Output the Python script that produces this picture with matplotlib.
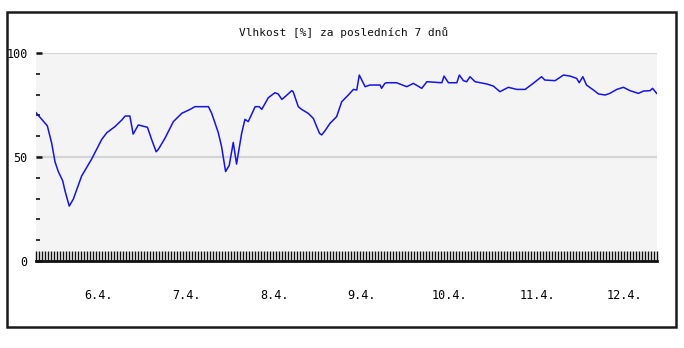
import numpy as np
import matplotlib
matplotlib.use("Agg")
import matplotlib.pyplot as plt
from matplotlib.ticker import MultipleLocator, FixedLocator
from matplotlib.patches import Rectangle

# hours since start of the window
hours = [0.0, 3.1, 4.3, 5.2, 6.1, 7.3, 7.9, 9.1, 10.2, 12.5, 15.2, 18.0, 19.4, 21.6,
         23.5, 24.4, 25.7, 26.6, 28.0, 29.8, 30.5, 31.7, 32.9, 33.5, 35.3, 37.6,
         39.9, 42.2, 43.5, 47.2, 48.1, 49.9, 50.8, 51.9, 52.9, 54.0, 54.9, 56.3,
         57.2, 58.1, 60.0, 61.1, 61.8, 63.6, 65.4, 66.3, 67.3, 68.2, 70.0, 70.4,
         71.8, 72.7, 74.5, 75.9, 77.6, 78.2, 79.1, 80.5, 82.3, 83.7, 85.5, 86.9,
         87.8, 88.5, 90.1, 91.4, 94.2, 94.6, 95.5, 96.0, 98.7, 101.5, 103.3,
         105.6, 107.0, 111.1, 111.7, 112.9, 115.2, 115.9, 117.0, 117.9, 118.8,
         120.2, 123.4, 125.2, 127.0, 129.3, 131.6, 133.9, 136.1, 138.4, 139.3,
         142.1, 144.4, 146.2, 148.0, 148.7, 149.7, 150.7, 152.6, 154.0, 155.8,
         157.1, 159.0, 160.8, 162.6, 164.9, 166.3, 168.1, 168.8, 169.9]
humidity = [71.3, 65.0, 56.6, 47.7, 43.0, 38.6, 34.0, 26.4, 29.7, 40.9, 48.9, 58.5,
            61.7, 64.6, 67.8, 69.7, 69.7, 61.0, 65.4, 64.6, 64.3, 58.2, 52.5, 53.7,
            59.0, 67.0, 71.0, 72.9, 74.2, 74.2, 71.0, 61.7, 55.0, 43.0, 46.0, 57.0,
            46.6, 61.4, 68.1, 67.0, 74.2, 74.2, 72.9, 78.5, 80.9, 80.3, 77.7, 79.0,
            81.9, 81.4, 74.2, 72.9, 71.0, 68.6, 61.4, 60.6, 62.6, 66.2, 69.4, 76.6,
            79.8, 82.5, 82.2, 89.4, 83.8, 84.6, 84.6, 83.0, 85.4, 85.7, 85.7, 83.8,
            85.4, 83.0, 86.2, 85.7, 88.9, 85.7, 85.7, 89.4, 86.7, 86.2, 88.6, 86.2,
            85.1, 84.1, 81.4, 83.5, 82.5, 82.5, 85.4, 88.6, 87.0, 86.7, 89.4, 88.9,
            87.8, 85.7, 88.6, 84.6, 82.2, 80.3, 79.8, 80.6, 82.5, 83.5, 81.9, 80.6,
            81.7, 81.9, 83.0, 80.6]

day_labels = ["6.4.", "7.4.", "8.4.", "9.4.", "10.4.", "11.4.", "12.4."]
first_day_hour = 17.2
title = "Vlhkost [%] za posledních 7 dnů"

mono = "DejaVu Sans Mono"

fig = plt.figure(figsize=(6.84, 3.48), dpi=100)
fig.patch.set_facecolor("white")

# outer frame
fig.patches.append(Rectangle((7 / 684, 1 - 327 / 348), 669 / 684, 315 / 348,
                             transform=fig.transFigure, fill=False,
                             edgecolor="#1a1a1a", linewidth=1.8))

ax = fig.add_axes([36 / 684, 87 / 348, 621 / 684, 208 / 348])
ax.set_facecolor("#f4f4f4")
ax.plot(hours, humidity, color="#1414e6", linewidth=1.1, zorder=3)

ax.set_xlim(0, 170)
ax.set_ylim(0, 100)

for y in (50, 100):
    ax.axhline(y, color="#d4d4d4", linewidth=1.6, zorder=1)

for side in ("top", "right", "left"):
    ax.spines[side].set_visible(False)
ax.spines["bottom"].set_linewidth(2)
ax.spines["bottom"].set_color("#111111")

# y ticks
ax.yaxis.set_major_locator(FixedLocator([0, 50, 100]))
ax.yaxis.set_minor_locator(MultipleLocator(10))
ax.tick_params(axis="y", which="major", direction="in", length=4, width=1.8,
               color="#111111", pad=6, labelsize=8.5)
ax.tick_params(axis="y", which="minor", direction="in", length=3, width=1.2,
               color="#111111")

# x ticks: dense minor ticks (one every 3 px), day labels as majors without marks
day_pos = [first_day_hour + 24 * i for i in range(len(day_labels))]
ax.xaxis.set_major_locator(FixedLocator(day_pos))
ax.set_xticklabels(day_labels)
ax.xaxis.set_minor_locator(MultipleLocator(170 / 207))
ax.tick_params(axis="x", which="major", length=0, pad=20.5, labelsize=8.5)
ax.tick_params(axis="x", which="minor", direction="in", length=7.5, width=1.0,
               color="#111111")

for lbl in ax.get_xticklabels() + ax.get_yticklabels():
    lbl.set_family(mono)

fig.text(344 / 684, 1 - 33 / 348, title, ha="center", va="center",
         fontsize=8, family=mono, color="#111111")

fig.savefig("out.png", dpi=100)
